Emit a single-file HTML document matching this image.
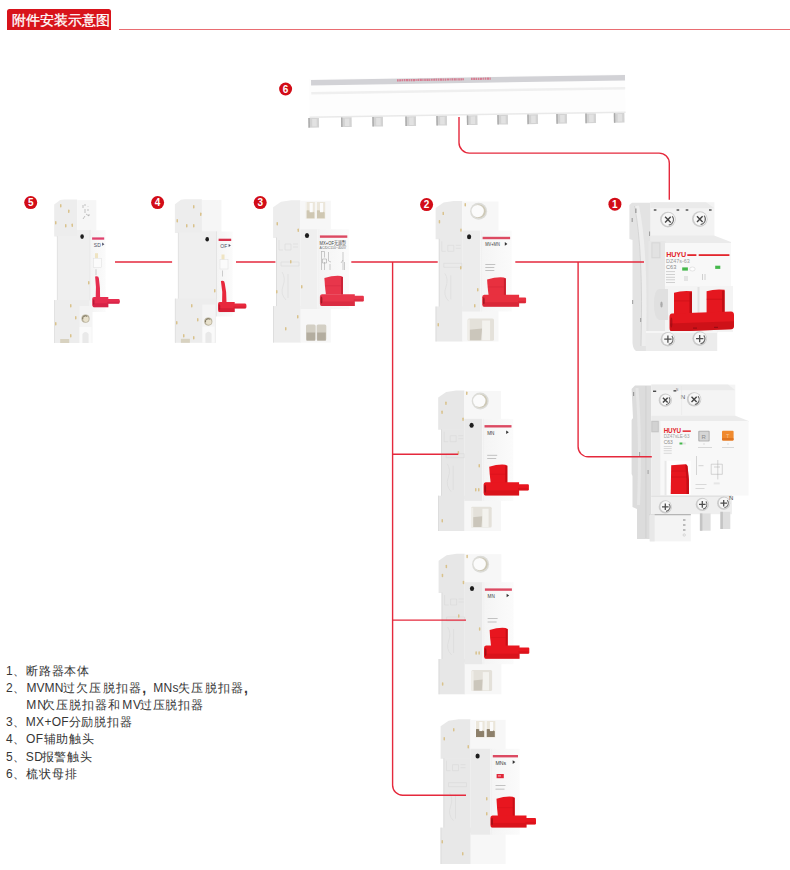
<!DOCTYPE html>
<html><head><meta charset="utf-8">
<style>
html,body{margin:0;padding:0;background:#fff;}
body{width:790px;height:870px;position:relative;overflow:hidden;font-family:"Liberation Sans",sans-serif;}
.hd{position:absolute;left:7px;top:8.6px;width:104px;height:21.4px;background:#d8131b;border-radius:2.5px 2.5px 0 0;color:#fff;font-size:14px;line-height:23px;padding-left:4.8px;box-sizing:border-box;letter-spacing:0px;white-space:nowrap;overflow:hidden;-webkit-text-stroke:0.3px #fff;}
.hl{position:absolute;left:119px;top:29px;width:671px;height:1px;background:#e96d72;}
svg.main{position:absolute;left:0;top:0;}
.lg{position:absolute;left:0;top:662.7px;width:300px;font-size:12px;line-height:17.2px;color:#363636;white-space:nowrap;}
.lg span{position:absolute;top:0;}
.lg div{height:17.2px;position:relative;}
</style></head>
<body>
<div class="hd">附件安装示意图</div>
<div class="hl"></div>

<svg class="main" width="790" height="870" viewBox="0 0 790 870">
<defs>
  <linearGradient id="gSide" x1="0" x2="1" y1="0" y2="0">
    <stop offset="0" stop-color="#e9e9e9"/><stop offset="1" stop-color="#f1f1f1"/>
  </linearGradient>
  <linearGradient id="gFront" x1="0" x2="1" y1="0" y2="0">
    <stop offset="0" stop-color="#f4f4f4"/><stop offset="1" stop-color="#fbfbfb"/>
  </linearGradient>
  <linearGradient id="gRed" x1="0" x2="0" y1="0" y2="1">
    <stop offset="0" stop-color="#ee2a37"/><stop offset="1" stop-color="#d91424"/>
  </linearGradient>
</defs>

<g transform="rotate(-0.92 311 79)"><rect x="309" y="79" width="316" height="39" fill="#fdfdfd" /><rect x="311" y="80" width="314" height="5.5" fill="#d2d2d6" /><rect x="311" y="92" width="314" height="2.5" fill="#efefef" /><rect x="309" y="116.5" width="316" height="1.5" fill="#e9e9e9" /><path d="M397 81.7 H464 M471 81.5 H491" stroke="#d8607a" stroke-width="2.2" stroke-dasharray="1.6 0.6 2.2 0.5 1.2 0.7" opacity="0.75"/><rect x="307.7" y="118" width="10.6" height="9.6" fill="#d3d3d3" /><rect x="307.7" y="118" width="1.4" height="9.6" fill="#aaaaaa" /><rect x="311.5" y="119" width="4.5" height="7.6" fill="#e2e2e2" /><rect x="340.4" y="118" width="10.6" height="9.6" fill="#d3d3d3" /><rect x="340.4" y="118" width="1.4" height="9.6" fill="#aaaaaa" /><rect x="344.2" y="119" width="4.5" height="7.6" fill="#e2e2e2" /><rect x="371.7" y="118" width="10.6" height="9.6" fill="#d3d3d3" /><rect x="371.7" y="118" width="1.4" height="9.6" fill="#aaaaaa" /><rect x="375.5" y="119" width="4.5" height="7.6" fill="#e2e2e2" /><rect x="404.7" y="118" width="10.6" height="9.6" fill="#d3d3d3" /><rect x="404.7" y="118" width="1.4" height="9.6" fill="#aaaaaa" /><rect x="408.5" y="119" width="4.5" height="7.6" fill="#e2e2e2" /><rect x="435.7" y="118" width="10.6" height="9.6" fill="#d3d3d3" /><rect x="435.7" y="118" width="1.4" height="9.6" fill="#aaaaaa" /><rect x="439.5" y="119" width="4.5" height="7.6" fill="#e2e2e2" /><rect x="466.2" y="118" width="10.6" height="9.6" fill="#d3d3d3" /><rect x="466.2" y="118" width="1.4" height="9.6" fill="#aaaaaa" /><rect x="470" y="119" width="4.5" height="7.6" fill="#e2e2e2" /><rect x="496.7" y="118" width="10.6" height="9.6" fill="#d3d3d3" /><rect x="496.7" y="118" width="1.4" height="9.6" fill="#aaaaaa" /><rect x="500.5" y="119" width="4.5" height="7.6" fill="#e2e2e2" /><rect x="526.7" y="118" width="10.6" height="9.6" fill="#d3d3d3" /><rect x="526.7" y="118" width="1.4" height="9.6" fill="#aaaaaa" /><rect x="530.5" y="119" width="4.5" height="7.6" fill="#e2e2e2" /><rect x="555.7" y="118" width="10.6" height="9.6" fill="#d3d3d3" /><rect x="555.7" y="118" width="1.4" height="9.6" fill="#aaaaaa" /><rect x="559.5" y="119" width="4.5" height="7.6" fill="#e2e2e2" /><rect x="584.7" y="118" width="10.6" height="9.6" fill="#d3d3d3" /><rect x="584.7" y="118" width="1.4" height="9.6" fill="#aaaaaa" /><rect x="588.5" y="119" width="4.5" height="7.6" fill="#e2e2e2" /><rect x="613.2" y="118" width="10.6" height="9.6" fill="#d3d3d3" /><rect x="613.2" y="118" width="1.4" height="9.6" fill="#aaaaaa" /><rect x="617" y="119" width="4.5" height="7.6" fill="#e2e2e2" /></g>
<g><path d="M54.2 204.4 L60.2 199.9 L64.2 199.4 H77.2 V236.6 H54.2 Z" fill="#ededed"/><rect x="77.2" y="200.2" width="19.1" height="30.8" fill="#f6f6f6" /><g stroke="#8a8a8a" stroke-width="0.5" fill="none"><path d="M83 205 v3 M84 205 l2 0 M88 206 v0.5 M85 209 v4 M87 210 h2 M86 214 l3 2 M85 216 l-2 3 M88 215 h2"/></g><rect x="56.9" y="236.1" width="33.6" height="64.4" fill="#efefef" /><rect x="76.9" y="229.9" width="13.9" height="7" fill="#efefef" /><rect x="89.7" y="230.2" width="0.8" height="81.8" fill="#e2e2e2" /><rect x="56.9" y="236.1" width="0.7" height="64.4" fill="#dddddd" /><rect x="54.2" y="300" width="35.3" height="43" fill="#ededed" /><rect x="54.2" y="300" width="0.7" height="43" fill="#dcdcdc" /><rect x="90.5" y="230.2" width="15.1" height="81.8" fill="url(#gFront)" /><rect x="92.1" y="237.4" width="12.1" height="2.3" fill="#e0426e" /><text x="93.8" y="246.8" font-family="Liberation Sans" font-size="5" fill="#4d5066">SD</text><path d="M102.1 242.6 l2.3 1.6 l-2.3 1.6 Z" fill="#4d5066"/><rect x="95" y="253.2" width="3" height="9" fill="#efe4c2" /><rect x="93.5" y="258.2" width="8" height="9.5" fill="#fbfbfb" stroke="#dedede" stroke-width="0.5"/><rect x="95.5" y="269.2" width="1" height="6" fill="#cccccc" /><ellipse cx="82.1" cy="236.6" rx="1.8" ry="2.3" fill="#1e1e1e"/><path d="M95.1 276.5 Q98.7 275.5 98.9 278.5 Q100.3 287 100.1 297.5 H95.7 Q96.5 287 95.1 276.5 Z" fill="#e62d4f"/><path d="M94 296.9 H108.3 V307.2 H94 Q92.2 307.2 92.2 305 V299.1 Q92.2 296.9 94 296.9 Z" fill="#e62d4f"/><rect x="93.2" y="303.29" width="15.1" height="3.91" fill="#b8153a" opacity="0.35"/><ellipse cx="93.7" cy="302.05" rx="0.8" ry="2.88" fill="#8a0a20" opacity="0.5"/><path d="M107.3 299 H118.7 Q119.9 299 119.9 301.4 Q119.9 303.8 118.7 303.8 H107.3 Z" fill="#e62d4f"/><rect x="107.3" y="301.88" width="11.6" height="1.92" fill="#b8153a" opacity="0.3"/><rect x="79.5" y="306" width="13" height="37" fill="#f4f4f4" /><circle cx="85.5" cy="318.7" r="4.1" fill="#b9b29c"/><circle cx="85.9" cy="319.1" r="2.8" fill="#e8e1cc"/><path d="M82.7 319.2 A2.8 2.8 0 0 1 87 316.3" stroke="#7d7560" stroke-width="1" fill="none"/><path d="M79.5 327 H91.5 V343 H88.5 V334 Q85.5 330 82.5 334 V343 H79.5 Z" fill="#fafafa"/><path d="M82.5 334 Q85.5 330 88.5 334 V343 H82.5 Z" fill="#e9e9e9"/><rect x="60.2" y="339" width="9" height="4" fill="#d8d2c0" /><rect x="55" y="221" width="1.5" height="3.4" rx="0.7" fill="#d9c28c"/><rect x="60" y="204" width="1.5" height="3.4" rx="0.7" fill="#d9c28c"/><rect x="68" y="209.5" width="1.5" height="3.4" rx="0.7" fill="#d9c28c"/><rect x="65" y="224" width="1.5" height="3.4" rx="0.7" fill="#d9c28c"/><rect x="71.5" y="223.5" width="1.5" height="3.4" rx="0.7" fill="#d9c28c"/><rect x="88" y="281" width="1.5" height="3.4" rx="0.7" fill="#d9c28c"/><rect x="70" y="304" width="1.5" height="3.4" rx="0.7" fill="#d9c28c"/><rect x="75" y="316" width="1.5" height="3.4" rx="0.7" fill="#d9c28c"/><rect x="55" y="322" width="1.5" height="3.4" rx="0.7" fill="#d9c28c"/><rect x="70" y="334" width="1.5" height="3.4" rx="0.7" fill="#d9c28c"/></g>
<g><path d="M174.9 204.2 L180.9 199.7 L184.9 199.2 H201.9 V233.1 H174.9 Z" fill="#ededed"/><rect x="201.9" y="200" width="19.5" height="32.3" fill="#f6f6f6" /><rect x="177.9" y="232.6" width="39.1" height="66.5" fill="#efefef" /><rect x="201.6" y="231.2" width="15.7" height="2.2" fill="#efefef" /><rect x="216.2" y="231.5" width="0.8" height="85" fill="#e2e2e2" /><rect x="177.9" y="232.6" width="0.7" height="66.5" fill="#dddddd" /><rect x="174.9" y="298.6" width="41.1" height="44.2" fill="#ededed" /><rect x="174.9" y="298.6" width="0.7" height="44.2" fill="#dcdcdc" /><rect x="217" y="231.5" width="15.6" height="85" fill="url(#gFront)" /><rect x="218.6" y="238.7" width="12.6" height="2.3" fill="#d8304a" /><text x="220.3" y="248.1" font-family="Liberation Sans" font-size="5" fill="#4d5066">OF</text><path d="M228.6 243.9 l2.3 1.6 l-2.3 1.6 Z" fill="#4d5066"/><rect x="221.5" y="254.5" width="3" height="9" fill="#efe4c2" /><rect x="220" y="259.5" width="8" height="9.5" fill="#fbfbfb" stroke="#dedede" stroke-width="0.5"/><rect x="222" y="270.5" width="1" height="6" fill="#cccccc" /><ellipse cx="207.2" cy="239.3" rx="1.8" ry="2.3" fill="#1e1e1e"/><path d="M220.9 281 Q224.5 280 224.7 283 Q226.7 291.5 226.5 302 H222.1 Q222.9 291.5 220.9 281 Z" fill="#e8283c"/><path d="M219.8 302 H234.7 V312.1 H219.8 Q218 312.1 218 309.9 V304.2 Q218 302 219.8 302 Z" fill="#e8283c"/><rect x="219" y="308.26" width="15.7" height="3.84" fill="#b80f24" opacity="0.35"/><ellipse cx="219.5" cy="307.05" rx="0.8" ry="2.83" fill="#8a0a20" opacity="0.5"/><path d="M233.7 303.5 H245.3 Q246.5 303.5 246.5 306.05 Q246.5 308.6 245.3 308.6 H233.7 Z" fill="#e8283c"/><rect x="233.7" y="306.56" width="11.8" height="2.04" fill="#b80f24" opacity="0.3"/><rect x="202.3" y="304.6" width="13" height="38.2" fill="#f4f4f4" /><circle cx="208.3" cy="321.6" r="4.1" fill="#b9b29c"/><circle cx="208.7" cy="322" r="2.8" fill="#e8e1cc"/><path d="M205.5 322.1 A2.8 2.8 0 0 1 209.8 319.2" stroke="#7d7560" stroke-width="1" fill="none"/><path d="M202.5 326.8 H214.5 V342.8 H211.5 V333.8 Q208.5 329.8 205.5 333.8 V342.8 H202.5 Z" fill="#fafafa"/><path d="M205.5 333.8 Q208.5 329.8 211.5 333.8 V342.8 H205.5 Z" fill="#e9e9e9"/><rect x="180.9" y="338.8" width="9" height="4" fill="#d8d2c0" /><rect x="193" y="205" width="1.5" height="3.4" rx="0.7" fill="#d9c28c"/><rect x="200" y="212.5" width="1.5" height="3.4" rx="0.7" fill="#d9c28c"/><rect x="176.5" y="219" width="1.5" height="3.4" rx="0.7" fill="#d9c28c"/><rect x="186" y="224" width="1.5" height="3.4" rx="0.7" fill="#d9c28c"/><rect x="193" y="224" width="1.5" height="3.4" rx="0.7" fill="#d9c28c"/><rect x="214" y="289" width="1.5" height="3.4" rx="0.7" fill="#d9c28c"/><rect x="191" y="304" width="1.5" height="3.4" rx="0.7" fill="#d9c28c"/><rect x="197" y="318" width="1.5" height="3.4" rx="0.7" fill="#d9c28c"/><rect x="176" y="321" width="1.5" height="3.4" rx="0.7" fill="#d9c28c"/><rect x="183" y="334" width="1.5" height="3.4" rx="0.7" fill="#d9c28c"/><rect x="193" y="336" width="1.5" height="3.4" rx="0.7" fill="#d9c28c"/></g>
<g><path d="M273.1 207.2 L281.1 201.7 L291.1 200.2 H300.4 V238 H273.1 Z" fill="#ededed"/><rect x="276" y="237.5" width="24.4" height="69.1" fill="#ededed" /><rect x="276" y="237.5" width="0.8" height="69.1" fill="#d9d9d9" /><rect x="273.1" y="306.1" width="27.8" height="36.5" fill="#ededed" /><rect x="273.1" y="306.1" width="0.8" height="36.5" fill="#dadada" /><rect x="300.4" y="200.7" width="30.4" height="29" fill="#f7f7f7" /><rect x="300.4" y="307" width="30.4" height="35.6" fill="#f7f7f7" /><rect x="300.4" y="229.2" width="17.2" height="79.8" fill="#efefef" /><rect x="317.6" y="229.2" width="31.4" height="79.8" fill="url(#gFront)" /><rect x="318.4" y="229.2" width="0.8" height="79.8" fill="#f0f0f0" /><rect x="319.9" y="235.4" width="27.4" height="2.4" fill="#dc4a62" /><rect x="305.5" y="202" width="9.35" height="16.8" fill="#ebe6da" /><path d="M306 210.4 Q310.18 209.56 314.35 212.42 V218.3 H306 Z" fill="#cfc7b2"/><rect x="309.66" y="203" width="3.1" height="9.24" fill="#fbfbfb" /><rect x="305.5" y="202" width="1" height="16.8" fill="#fafafa" /><rect x="315.85" y="202" width="9.35" height="16.8" fill="#ebe6da" /><path d="M316.35 210.4 Q320.53 209.56 324.7 212.42 V218.3 H316.35 Z" fill="#cfc7b2"/><rect x="320.01" y="203" width="3.1" height="9.24" fill="#fbfbfb" /><rect x="315.85" y="202" width="1" height="16.8" fill="#fafafa" /><rect x="306" y="324.4" width="9.65" height="16.2" fill="#d3cfc4" rx="1.5"/><rect x="306.5" y="332.5" width="8.65" height="8.1" fill="#b3ad9f" /><rect x="316.65" y="324.4" width="9.65" height="16.2" fill="#d3cfc4" rx="1.5"/><rect x="317.15" y="332.5" width="8.65" height="8.1" fill="#b3ad9f" /><ellipse cx="307" cy="235.5" rx="2.1" ry="2.5" fill="#1d1d1d"/><text x="319.6" y="244.6" font-family="Liberation Sans" font-size="6.2" fill="#3c3c3c" textLength="26.4" lengthAdjust="spacingAndGlyphs">MX+OF无源型</text><text x="319.6" y="249.4" font-family="Liberation Sans" font-size="3.9" fill="#6a6a6a" textLength="26.4" lengthAdjust="spacingAndGlyphs">AC/DC110~400V</text><g stroke="#9a9a9a" stroke-width="0.5" fill="none"><path d="M321.5 251 V270 M321.5 251.5 h3 v6 M324.5 262 v8 M322.5 259 h4 v4 h-4 z M328.5 252 v9 l2.5 1 M330 264 v6 M343 252 v18 M341 263 l2 -3 M344.5 262 v8"/></g><path d="M324.4 278 Q333.7 275.2 341 276 L343 277 V294.6 H325.9 Q324.7 285.3 324.4 278 Z" fill="#e8364b"/><rect x="341" y="277" width="2" height="17.6" fill="#c51f34" opacity="0.85"/><rect x="325.4" y="285.3" width="15.6" height="0.9" fill="#c51f34" opacity="0.3"/><path d="M321.9 294.2 H354.8 V306 H321.9 Q319.9 306 319.9 303.5 V296.7 Q319.9 294.2 321.9 294.2 Z" fill="#e8364b"/><rect x="320.9" y="301.52" width="33.9" height="4.48" fill="#c51f34" opacity="0.4"/><ellipse cx="321.5" cy="300.1" rx="0.9" ry="3.54" fill="#7a0a10" opacity="0.6"/><path d="M353.8 295.8 H362.9 Q363.9 295.8 363.9 297 V300.2 Q363.9 301.4 362.9 301.4 H353.8 Z" fill="#e8364b"/><rect x="353.8" y="299.16" width="9.1" height="2.24" fill="#c51f34" opacity="0.35"/><g stroke="#d6d6d6" stroke-width="0.5" fill="none"><path d="M279 240 v10 h4 M285 244 h6 v6 h-6 z M293 244 h5 M293 247 h5 M281 262 h18 v4 h-18 z M282 272 q4 6 1 14 q-3 8 3 14 M288 274 v24"/></g><rect x="276.5" y="222" width="1.5" height="3.4" rx="0.7" fill="#d9c28c"/><rect x="297.5" y="228.5" width="1.5" height="3.4" rx="0.7" fill="#d9c28c"/><rect x="290" y="260" width="1.5" height="3.4" rx="0.7" fill="#d9c28c"/><rect x="276" y="290" width="1.5" height="3.4" rx="0.7" fill="#d9c28c"/><rect x="301" y="285" width="1.5" height="3.4" rx="0.7" fill="#d9c28c"/><rect x="285" y="327" width="1.5" height="3.4" rx="0.7" fill="#d9c28c"/><rect x="297" y="315" width="1.5" height="3.4" rx="0.7" fill="#d9c28c"/></g>
<g><path d="M435.6 208 L443.6 202.5 L453.6 201 H462.2 V239.3 H435.6 Z" fill="#eaeaea"/><rect x="438.8" y="238.8" width="23.4" height="68.2" fill="#eaeaea" /><rect x="438.8" y="238.8" width="0.8" height="68.2" fill="#d9d9d9" /><rect x="435.6" y="306.5" width="27.1" height="35" fill="#eaeaea" /><rect x="435.6" y="306.5" width="0.8" height="35" fill="#dadada" /><rect x="462.2" y="201.5" width="36.3" height="29.6" fill="#f7f7f7" /><rect x="462.2" y="309.5" width="36.3" height="32" fill="#f7f7f7" /><rect x="462.2" y="230.6" width="18.1" height="80.9" fill="#ececec" /><rect x="480.3" y="230.6" width="31.5" height="80.9" fill="url(#gFront)" /><rect x="481.1" y="230.6" width="0.8" height="80.9" fill="#f0f0f0" /><rect x="482.6" y="236.8" width="27.5" height="2.4" fill="#dc4a62" /><circle cx="478.6" cy="211.3" r="8.5" fill="#dcdcd8"/><circle cx="478.9" cy="211.3" r="6.8" fill="#cdc8b6"/><circle cx="477.7" cy="211.1" r="6.2" fill="#fbfbfb"/><rect x="467.6" y="318.5" width="26.4" height="22.3" fill="#e4e1da" rx="1.5"/><path d="M469.1 329.65 L482.12 328.54 L480.8 340.3 H469.1 Z" fill="#cbc6bb"/><rect x="482.12" y="320.5" width="7.92" height="19.8" fill="#f3f2ee" /><rect x="467.6" y="319.5" width="2.2" height="21.3" fill="#efede8" /><ellipse cx="469.1" cy="236.8" rx="2.1" ry="2.5" fill="#1d1d1d"/><text x="485.3" y="246.4" font-family="Liberation Sans" font-size="5.2" fill="#3c3c3c" textLength="14.5" lengthAdjust="spacingAndGlyphs">MV+MN</text><path d="M504.8 242.1 l2.6 1.8 l-2.6 1.8 Z" fill="#333"/><rect x="485.3" y="264.1" width="10" height="0.6" fill="#a0a0a0" /><rect x="485.3" y="267.1" width="9" height="0.6" fill="#a0a0a0" /><rect x="485.3" y="270.1" width="9" height="0.6" fill="#a0a0a0" /><path d="M487.1 279.4 Q496.5 276.6 503.9 277.4 L505.9 278.4 V295.5 H488.6 Q487.4 286.45 487.1 279.4 Z" fill="#e8303f"/><rect x="503.9" y="278.4" width="2" height="17.1" fill="#c41c2c" opacity="0.85"/><rect x="488.1" y="286.45" width="15.8" height="0.9" fill="#c41c2c" opacity="0.3"/><path d="M484.2 294.8 H519.1 V306.7 H484.2 Q482.2 306.7 482.2 304.2 V297.3 Q482.2 294.8 484.2 294.8 Z" fill="#e8303f"/><rect x="483.2" y="302.18" width="35.9" height="4.52" fill="#c41c2c" opacity="0.4"/><ellipse cx="483.8" cy="300.75" rx="0.9" ry="3.57" fill="#7a0a10" opacity="0.6"/><path d="M518.1 297.6 H525.1 Q526.1 297.6 526.1 298.8 V302 Q526.1 303.2 525.1 303.2 H518.1 Z" fill="#e8303f"/><rect x="518.1" y="300.96" width="7" height="2.24" fill="#c41c2c" opacity="0.35"/><g stroke="#d6d6d6" stroke-width="0.5" fill="none"><path d="M441.8 241.3 v10 h4 M447.8 245.3 h6 v6 h-6 z M455.8 245.3 h5 M455.8 248.3 h5 M443.8 263.3 h18 v4 h-18 z M444.8 273.3 q4 6 1 14 q-3 8 3 14 M450.8 275.3 v24"/></g><rect x="442.5" y="211.7" width="1.5" height="3.4" rx="0.7" fill="#d9c28c"/><rect x="438.7" y="220" width="1.5" height="3.4" rx="0.7" fill="#d9c28c"/><rect x="460.2" y="228.4" width="1.5" height="3.4" rx="0.7" fill="#d9c28c"/><rect x="464.5" y="203" width="1.5" height="3.4" rx="0.7" fill="#d9c28c"/><rect x="460" y="266" width="1.5" height="3.4" rx="0.7" fill="#d9c28c"/><rect x="477" y="288" width="1.5" height="3.4" rx="0.7" fill="#d9c28c"/><rect x="474" y="304" width="1.5" height="3.4" rx="0.7" fill="#d9c28c"/><rect x="437.5" y="323" width="1.5" height="3.4" rx="0.7" fill="#d9c28c"/></g>
<g><path d="M438.2 397.4 L446.2 391.9 L456.2 390.4 H464.3 V429.7 H438.2 Z" fill="#e7e7e7"/><rect x="441.2" y="429.2" width="23.1" height="67" fill="#e7e7e7" /><rect x="441.2" y="429.2" width="0.8" height="67" fill="#d9d9d9" /><rect x="438.2" y="495.7" width="26.6" height="35.3" fill="#e7e7e7" /><rect x="438.2" y="495.7" width="0.8" height="35.3" fill="#dadada" /><rect x="464.3" y="390.9" width="36.7" height="28.5" fill="#f7f7f7" /><rect x="464.3" y="498.9" width="36.7" height="32.1" fill="#f7f7f7" /><rect x="464.3" y="418.9" width="17.9" height="82" fill="#e9e9e9" /><rect x="482.2" y="418.9" width="31" height="82" fill="url(#gFront)" /><rect x="483" y="418.9" width="0.8" height="82" fill="#f0f0f0" /><rect x="484.5" y="425.1" width="27" height="2.4" fill="#dc4a62" /><circle cx="480.2" cy="401" r="8.5" fill="#dcdcd8"/><circle cx="480.5" cy="401" r="6.8" fill="#cdc8b6"/><circle cx="479.3" cy="400.8" r="6.2" fill="#fbfbfb"/><rect x="471" y="506.8" width="20.7" height="20.8" fill="#e4e1da" rx="1.5"/><path d="M472.5 517.2 L482.38 516.16 L481.35 527.1 H472.5 Z" fill="#cbc6bb"/><rect x="482.38" y="508.8" width="6.21" height="18.3" fill="#f3f2ee" /><rect x="471" y="507.8" width="2.2" height="19.8" fill="#efede8" /><ellipse cx="471.6" cy="425.2" rx="2.1" ry="2.5" fill="#1d1d1d"/><text x="487.2" y="434.7" font-family="Liberation Sans" font-size="5.6" fill="#3c3c3c" textLength="7.2" lengthAdjust="spacingAndGlyphs">MN</text><path d="M506.2 430.4 l2.6 1.8 l-2.6 1.8 Z" fill="#333"/><rect x="487.2" y="454.9" width="10" height="0.6" fill="#a0a0a0" /><rect x="487.2" y="458.4" width="9" height="0.6" fill="#a0a0a0" /><path d="M489.2 466.7 Q498.25 463.9 505.3 464.7 L507.3 465.7 V482.9 H490.7 Q489.5 473.8 489.2 466.7 Z" fill="#e8161f"/><rect x="505.3" y="465.7" width="2" height="17.2" fill="#c20c14" opacity="0.85"/><rect x="490.2" y="473.8" width="15.1" height="0.9" fill="#c20c14" opacity="0.3"/><path d="M485.6 482.2 H519.1 V495.4 H485.6 Q483.6 495.4 483.6 492.9 V484.7 Q483.6 482.2 485.6 482.2 Z" fill="#e8161f"/><rect x="484.6" y="490.38" width="34.5" height="5.02" fill="#c20c14" opacity="0.4"/><ellipse cx="485.2" cy="488.8" rx="0.9" ry="3.96" fill="#7a0a10" opacity="0.6"/><path d="M518.1 484.2 H527.9 Q528.9 484.2 528.9 485.4 V489.3 Q528.9 490.5 527.9 490.5 H518.1 Z" fill="#e8161f"/><rect x="518.1" y="487.98" width="9.8" height="2.52" fill="#c20c14" opacity="0.35"/><g stroke="#d6d6d6" stroke-width="0.5" fill="none"><path d="M444.2 431.7 v10 h4 M450.2 435.7 h6 v6 h-6 z M458.2 435.7 h5 M458.2 438.7 h5 M446.2 453.7 h18 v4 h-18 z M447.2 463.7 q4 6 1 14 q-3 8 3 14 M453.2 465.7 v24"/></g><rect x="445.2" y="401.5" width="1.5" height="3.4" rx="0.7" fill="#d9c28c"/><rect x="441.3" y="410.5" width="1.5" height="3.4" rx="0.7" fill="#d9c28c"/><rect x="462.3" y="417.5" width="1.5" height="3.4" rx="0.7" fill="#d9c28c"/><rect x="466" y="391.5" width="1.5" height="3.4" rx="0.7" fill="#d9c28c"/><rect x="457.6" y="451" width="1.5" height="3.4" rx="0.7" fill="#d9c28c"/><rect x="478.5" y="464" width="1.5" height="3.4" rx="0.7" fill="#d9c28c"/><rect x="475" y="488" width="1.5" height="3.4" rx="0.7" fill="#d9c28c"/><rect x="478" y="488" width="1.5" height="3.4" rx="0.7" fill="#d9c28c"/><rect x="441.5" y="519" width="1.5" height="3.4" rx="0.7" fill="#d9c28c"/></g>
<g><path d="M438.6 560.7 L446.6 555.2 L456.6 553.7 H464.7 V593 H438.6 Z" fill="#e7e7e7"/><rect x="441.6" y="592.5" width="23.1" height="67" fill="#e7e7e7" /><rect x="441.6" y="592.5" width="0.8" height="67" fill="#d9d9d9" /><rect x="438.6" y="659" width="26.6" height="35.3" fill="#e7e7e7" /><rect x="438.6" y="659" width="0.8" height="35.3" fill="#dadada" /><rect x="464.7" y="554.2" width="36.7" height="28.5" fill="#f7f7f7" /><rect x="464.7" y="662.2" width="36.7" height="32.1" fill="#f7f7f7" /><rect x="464.7" y="582.2" width="17.9" height="82" fill="#e9e9e9" /><rect x="482.6" y="582.2" width="31" height="82" fill="url(#gFront)" /><rect x="483.4" y="582.2" width="0.8" height="82" fill="#f0f0f0" /><rect x="484.9" y="588.4" width="27" height="2.4" fill="#dc4a62" /><circle cx="480.6" cy="564.3" r="8.5" fill="#dcdcd8"/><circle cx="480.9" cy="564.3" r="6.8" fill="#cdc8b6"/><circle cx="479.7" cy="564.1" r="6.2" fill="#fbfbfb"/><rect x="471.4" y="670.1" width="20.7" height="20.8" fill="#e4e1da" rx="1.5"/><path d="M472.9 680.5 L482.78 679.46 L481.75 690.4 H472.9 Z" fill="#cbc6bb"/><rect x="482.78" y="672.1" width="6.21" height="18.3" fill="#f3f2ee" /><rect x="471.4" y="671.1" width="2.2" height="19.8" fill="#efede8" /><ellipse cx="472" cy="588.5" rx="2.1" ry="2.5" fill="#1d1d1d"/><text x="487.6" y="598" font-family="Liberation Sans" font-size="5.6" fill="#3c3c3c" textLength="7.2" lengthAdjust="spacingAndGlyphs">MN</text><path d="M506.6 593.7 l2.6 1.8 l-2.6 1.8 Z" fill="#333"/><rect x="487.6" y="618.2" width="10" height="0.6" fill="#a0a0a0" /><rect x="487.6" y="621.7" width="9" height="0.6" fill="#a0a0a0" /><path d="M489.6 630 Q498.65 627.2 505.7 628 L507.7 629 V646.2 H491.1 Q489.9 637.1 489.6 630 Z" fill="#e8161f"/><rect x="505.7" y="629" width="2" height="17.2" fill="#c20c14" opacity="0.85"/><rect x="490.6" y="637.1" width="15.1" height="0.9" fill="#c20c14" opacity="0.3"/><path d="M486 645.5 H519.5 V658.7 H486 Q484 658.7 484 656.2 V648 Q484 645.5 486 645.5 Z" fill="#e8161f"/><rect x="485" y="653.68" width="34.5" height="5.02" fill="#c20c14" opacity="0.4"/><ellipse cx="485.6" cy="652.1" rx="0.9" ry="3.96" fill="#7a0a10" opacity="0.6"/><path d="M518.5 647.5 H528.3 Q529.3 647.5 529.3 648.7 V652.6 Q529.3 653.8 528.3 653.8 H518.5 Z" fill="#e8161f"/><rect x="518.5" y="651.28" width="9.8" height="2.52" fill="#c20c14" opacity="0.35"/><g stroke="#d6d6d6" stroke-width="0.5" fill="none"><path d="M444.6 595 v10 h4 M450.6 599 h6 v6 h-6 z M458.6 599 h5 M458.6 602 h5 M446.6 617 h18 v4 h-18 z M447.6 627 q4 6 1 14 q-3 8 3 14 M453.6 629 v24"/></g><rect x="445.6" y="564.8" width="1.5" height="3.4" rx="0.7" fill="#d9c28c"/><rect x="441.7" y="573.8" width="1.5" height="3.4" rx="0.7" fill="#d9c28c"/><rect x="462.7" y="580.8" width="1.5" height="3.4" rx="0.7" fill="#d9c28c"/><rect x="466.4" y="554.8" width="1.5" height="3.4" rx="0.7" fill="#d9c28c"/><rect x="458" y="614.3" width="1.5" height="3.4" rx="0.7" fill="#d9c28c"/><rect x="478.9" y="627.3" width="1.5" height="3.4" rx="0.7" fill="#d9c28c"/><rect x="475.4" y="651.3" width="1.5" height="3.4" rx="0.7" fill="#d9c28c"/><rect x="478.4" y="651.3" width="1.5" height="3.4" rx="0.7" fill="#d9c28c"/><rect x="441.9" y="682.3" width="1.5" height="3.4" rx="0.7" fill="#d9c28c"/></g>
<g><path d="M440.6 726.3 L448.6 720.8 L458.6 719.3 H470.5 V758.7 H440.6 Z" fill="#e8e8e8"/><rect x="443.5" y="758.2" width="27" height="69.9" fill="#e8e8e8" /><rect x="443.5" y="758.2" width="0.8" height="69.9" fill="#d9d9d9" /><rect x="440.6" y="827.6" width="30.4" height="36.4" fill="#e8e8e8" /><rect x="440.6" y="827.6" width="0.8" height="36.4" fill="#dadada" /><rect x="470.5" y="719.8" width="35.1" height="29.5" fill="#f7f7f7" /><rect x="470.5" y="832.7" width="35.1" height="31.3" fill="#f7f7f7" /><rect x="470.5" y="748.8" width="20" height="85.9" fill="#eaeaea" /><rect x="490.5" y="748.8" width="29.2" height="85.9" fill="url(#gFront)" /><rect x="491.3" y="748.8" width="0.8" height="85.9" fill="#f0f0f0" /><rect x="492.8" y="755" width="25.2" height="2.4" fill="#dc4a62" /><rect x="475" y="721" width="9.65" height="16.5" fill="#ebe6da" /><path d="M475.5 729.25 Q479.82 728.42 484.15 731.23 V737 H475.5 Z" fill="#8d806b"/><rect x="479.29" y="722" width="3.2" height="9.08" fill="#fbfbfb" /><rect x="475" y="721" width="1" height="16.5" fill="#fafafa" /><rect x="485.65" y="721" width="9.65" height="16.5" fill="#ebe6da" /><path d="M486.15 729.25 Q490.47 728.42 494.8 731.23 V737 H486.15 Z" fill="#8d806b"/><rect x="489.94" y="722" width="3.2" height="9.08" fill="#fbfbfb" /><rect x="485.65" y="721" width="1" height="16.5" fill="#fafafa" /><ellipse cx="477.6" cy="756" rx="2.1" ry="2.5" fill="#1d1d1d"/><text x="495.5" y="764.6" font-family="Liberation Sans" font-size="5.2" fill="#3c3c3c">MNs</text><path d="M512.7 760.3 l2.6 1.8 l-2.6 1.8 Z" fill="#333"/><rect x="495.5" y="785.3" width="10" height="0.6" fill="#a0a0a0" /><rect x="495.5" y="788.8" width="9" height="0.6" fill="#a0a0a0" /><rect x="496.6" y="774" width="7.2" height="4.2" fill="#e0283a" /><rect x="498" y="775.3" width="3" height="1.2" fill="#f4a0a8" /><path d="M496.5 798.8 Q505.6 796 512.7 796.8 L514.7 797.8 V817.5 H498 Q496.8 807.15 496.5 798.8 Z" fill="#e8161f"/><rect x="512.7" y="797.8" width="2" height="19.7" fill="#c20c14" opacity="0.85"/><rect x="497.5" y="807.15" width="15.2" height="0.9" fill="#c20c14" opacity="0.3"/><path d="M492.4 815.4 H526.5 V827.6 H492.4 Q490.4 827.6 490.4 825.1 V817.9 Q490.4 815.4 492.4 815.4 Z" fill="#e8161f"/><rect x="491.4" y="822.96" width="35.1" height="4.64" fill="#c20c14" opacity="0.4"/><ellipse cx="492" cy="821.5" rx="0.9" ry="3.66" fill="#7a0a10" opacity="0.6"/><path d="M525.5 818 H535 Q536 818 536 819.2 V823.3 Q536 824.5 535 824.5 H525.5 Z" fill="#e8161f"/><rect x="525.5" y="821.9" width="9.5" height="2.6" fill="#c20c14" opacity="0.35"/><g stroke="#d6d6d6" stroke-width="0.5" fill="none"><path d="M446.5 760.7 v10 h4 M452.5 764.7 h6 v6 h-6 z M460.5 764.7 h5 M460.5 767.7 h5 M448.5 782.7 h18 v4 h-18 z M449.5 792.7 q4 6 1 14 q-3 8 3 14 M455.5 794.7 v24"/></g><rect x="453" y="728" width="1.5" height="3.4" rx="0.7" fill="#d9c28c"/><rect x="443.5" y="737" width="1.5" height="3.4" rx="0.7" fill="#d9c28c"/><rect x="467.5" y="745" width="1.5" height="3.4" rx="0.7" fill="#d9c28c"/><rect x="486" y="797" width="1.5" height="3.4" rx="0.7" fill="#d9c28c"/><rect x="486" y="812" width="1.5" height="3.4" rx="0.7" fill="#d9c28c"/><rect x="441.5" y="840" width="1.5" height="3.4" rx="0.7" fill="#d9c28c"/><rect x="462" y="852" width="1.5" height="3.4" rx="0.7" fill="#d9c28c"/></g>
<g><path d="M629.4 205 L632 202.8 H650.8 V351 H636 Q633 349 632.5 343 V240 L629.4 239 Z" fill="#e3e3e3"/><path d="M636.5 206 Q646 250 643.5 346" stroke="#eeeeee" stroke-width="5" fill="none"/><path d="M634.5 206 Q643.5 250 641 346" stroke="#cfcfcf" stroke-width="0.8" fill="none"/><rect x="635.2" y="208.5" width="1.3" height="4.5" fill="#9a9a9a" /><rect x="631.6" y="218" width="1.2" height="4" fill="#a0a0a0" /><rect x="649" y="231.5" width="1.2" height="4.5" fill="#a0a0a0" /><rect x="632" y="300" width="1.2" height="4" fill="#a8a8a8" /><rect x="640" y="318" width="1.2" height="4" fill="#a8a8a8" /><rect x="650.4" y="202.2" width="64" height="34" fill="#f3f3f3" /><path d="M650.4 202.2 H706 L714.4 208.3 H650.4 Z" fill="#eaeaea"/><rect x="653.8" y="209.3" width="2.6" height="1.4" fill="#4a4a4a" /><rect x="676.6" y="209.3" width="2.6" height="1.4" fill="#4a4a4a" /><rect x="685.7" y="209.3" width="2.6" height="1.4" fill="#4a4a4a" /><rect x="709" y="209.3" width="2.6" height="1.4" fill="#4a4a4a" /><circle cx="667.9" cy="219.6" r="7.8" fill="#cbcbcb"/><circle cx="668.4" cy="219.3" r="6.6" fill="#f7f7f7"/><path d="M672.19 216.09 A5.46 5.46 0 0 1 668.68 225.06" stroke="#6a6a6a" stroke-width="1.1" fill="none"/><path d="M665.09 216.79 L670.71 222.41 M670.71 216.79 L665.09 222.41" stroke="#444" stroke-width="1.4"/><circle cx="699.8" cy="219.1" r="7.8" fill="#cbcbcb"/><circle cx="700.3" cy="218.8" r="6.6" fill="#f7f7f7"/><path d="M704.09 215.59 A5.46 5.46 0 0 1 700.58 224.56" stroke="#6a6a6a" stroke-width="1.1" fill="none"/><path d="M696.99 216.29 L702.61 221.91 M702.61 216.29 L696.99 221.91" stroke="#444" stroke-width="1.4"/><path d="M650.4 235.6 H714 L731 242 V244 H650.4 Z" fill="#ebebeb"/><rect x="648.5" y="241" width="17" height="92" fill="#e7e7e7" /><rect x="651.4" y="242.3" width="9" height="16" fill="#d6d6d6" /><rect x="652.4" y="243.3" width="7" height="14" fill="#e2e2e2" /><rect x="665" y="243" width="66" height="46" fill="#f8f8f8" /><text x="666.2" y="257.2" font-family="Liberation Sans" font-weight="bold" font-size="7.2" fill="#e3262d" letter-spacing="-0.1">HUYU</text><rect x="687.3" y="254.2" width="9.1" height="1.8" fill="#e3262d" /><rect x="698.7" y="254.2" width="30.7" height="1.8" fill="#e3262d" /><text x="666" y="263.4" font-family="Liberation Sans" font-size="5.4" fill="#9a9a9a">DZ47s-63</text><text x="666" y="268.8" font-family="Liberation Sans" font-size="5.6" fill="#8a8a8a">C63</text><rect x="682.2" y="267.4" width="5.7" height="3.2" fill="#45b84c" /><rect x="715.2" y="265.7" width="5.1" height="3.2" fill="#45b84c" /><ellipse cx="692.4" cy="269" rx="2.8" ry="2" fill="#fdfdfd" stroke="#cfcfcf" stroke-width="0.5"/><rect x="666" y="271.5" width="9" height="0.55" fill="#b0b0b0" /><rect x="666" y="274.2" width="9" height="0.55" fill="#b0b0b0" /><rect x="666" y="276.9" width="9" height="0.55" fill="#b0b0b0" /><rect x="666" y="279.6" width="9" height="0.55" fill="#b0b0b0" /><rect x="666" y="282.2" width="9" height="0.55" fill="#b0b0b0" /><g stroke="#a8a8a8" stroke-width="0.5"><path d="M685 276 v5 M687 276 v5 M702.5 274 v6 M705 274 v6"/></g><rect x="665" y="286" width="68" height="46" fill="#f4f4f4" /><rect x="697.5" y="287" width="2" height="28" fill="#e2e2e2" /><path d="M659 289 Q654 290 654 304 Q654 318 659 320 H668 V289 Z" fill="#e0e0e0"/><ellipse cx="661.5" cy="304.5" rx="1.2" ry="3" fill="#aaa"/><path d="M674 292.8 Q682 290.3 692 291.3 V316.3 H674 Z" fill="#e5171f"/><rect x="689.5" y="292.3" width="2.5" height="24" fill="#b70b12" opacity="0.8"/><rect x="674" y="300.3" width="15.5" height="1.2" fill="#b70b12" opacity="0.35"/><path d="M706.6 291.2 Q714.6 288.7 724.6 289.7 V314.7 H706.6 Z" fill="#e5171f"/><rect x="722.1" y="290.7" width="2.5" height="24" fill="#b70b12" opacity="0.8"/><rect x="706.6" y="298.7" width="15.5" height="1.2" fill="#b70b12" opacity="0.35"/><path d="M672 313.5 L731 311.5 Q734 311.7 734 315 V326 Q734 329 731 329.3 L673 331.8 Q669.5 331.8 669.5 328 V317 Q669.5 313.6 672 313.5 Z" fill="#e5171f"/><path d="M670 323.5 L734 321.3 V326 Q734 329 731 329.3 L673 331.8 Q670 331.8 670 329 Z" fill="#b70b12" opacity="0.5"/><ellipse cx="671.3" cy="322.5" rx="1.1" ry="5" fill="#8a0a10" opacity="0.55"/><rect x="693" y="327.5" width="4" height="1.2" fill="#7a0a10" opacity="0.6"/><rect x="714" y="326.8" width="4" height="1.2" fill="#7a0a10" opacity="0.6"/><rect x="645.8" y="331" width="71.4" height="20" fill="#ececec" /><rect x="645.8" y="331" width="71.4" height="2" fill="#f6f6f6" /><circle cx="667.9" cy="339.2" r="7.3" fill="#cbcbcb"/><circle cx="668.4" cy="338.9" r="6.1" fill="#f7f7f7"/><path d="M671.91 335.91 A5.11 5.11 0 0 1 668.63 344.31" stroke="#6a6a6a" stroke-width="1.1" fill="none"/><path d="M664.25 339.2 H671.55 M667.9 335.55 V342.85" stroke="#4d4d4d" stroke-width="1.3"/><circle cx="699.7" cy="338.6" r="7.3" fill="#cbcbcb"/><circle cx="700.2" cy="338.3" r="6.1" fill="#f7f7f7"/><path d="M703.72 335.31 A5.11 5.11 0 0 1 700.43 343.71" stroke="#6a6a6a" stroke-width="1.1" fill="none"/><path d="M696.05 338.6 H703.35 M699.7 334.95 V342.25" stroke="#4d4d4d" stroke-width="1.3"/></g>
<g><path d="M631.6 389 L635 385.4 H651.3 V539 H637 V509 L632.5 507 V476 L631.6 474 V420 L633 418 Z" fill="#dcdcdc"/><path d="M637 388 Q641 440 638.5 505" stroke="#e6e6e6" stroke-width="3" fill="none"/><rect x="645.5" y="386" width="0.8" height="152" fill="#cecece" /><rect x="633" y="392" width="1.2" height="4" fill="#999" /><rect x="639" y="452" width="1.2" height="4" fill="#aaa" /><rect x="647.5" y="470" width="1.2" height="4" fill="#aaa" /><rect x="651.3" y="384.6" width="84" height="31.5" fill="#f4f4f4" /><path d="M651.3 384.6 H728 L735.3 390.3 H651.3 Z" fill="#ebebeb"/><rect x="653" y="390.6" width="3.2" height="1.3" fill="#3a3a3a" /><rect x="673.5" y="390.2" width="2.8" height="1.3" fill="#3a3a3a" /><text x="676" y="391.4" font-family="Liberation Sans" font-size="3" fill="#777">N</text><circle cx="665.3" cy="400.2" r="6.6" fill="#cbcbcb"/><circle cx="665.8" cy="399.9" r="5.4" fill="#f7f7f7"/><path d="M668.93 397.23 A4.62 4.62 0 0 1 665.96 404.82" stroke="#6a6a6a" stroke-width="1.1" fill="none"/><path d="M662.92 397.82 L667.68 402.58 M667.68 397.82 L662.92 402.58" stroke="#444" stroke-width="1.4"/><circle cx="694.1" cy="399.4" r="7.2" fill="#cbcbcb"/><circle cx="694.6" cy="399.1" r="6" fill="#f7f7f7"/><path d="M698.06 396.16 A5.04 5.04 0 0 1 694.82 404.44" stroke="#6a6a6a" stroke-width="1.1" fill="none"/><path d="M691.51 396.81 L696.69 401.99 M696.69 396.81 L691.51 401.99" stroke="#444" stroke-width="1.4"/><text x="680.8" y="398.6" font-family="Liberation Sans" font-size="6.2" fill="#555">N</text><rect x="681.5" y="386" width="0.6" height="29" fill="#e6e6e6" /><path d="M651.3 415.8 H735.3 L748.6 421 V422 H651.3 Z" fill="#ebebeb"/><rect x="651.3" y="421" width="97.3" height="74.5" fill="#f8f8f8" /><rect x="651.3" y="421" width="9" height="74.5" fill="#ececec" /><rect x="651.3" y="420.8" width="7.5" height="11.5" fill="#c4c4c4" /><rect x="652.3" y="421.8" width="5.5" height="9.5" fill="#d2d2d2" /><text x="663.7" y="433.4" font-family="Liberation Sans" font-weight="bold" font-size="6.3" fill="#e3262d" letter-spacing="-0.2">HUYU</text><rect x="682.6" y="430.4" width="8.2" height="1.5" fill="#e3262d" /><text x="663.7" y="438.4" font-family="Liberation Sans" font-size="4.6" fill="#a0a0a0">DZ47sLE-63</text><text x="663.7" y="443.6" font-family="Liberation Sans" font-size="5" fill="#8a8a8a">C63</text><rect x="679.5" y="442.5" width="3" height="2" fill="#45b84c" /><rect x="682.8" y="442.5" width="3" height="2" fill="#e2e2e2" /><rect x="698.2" y="430.7" width="11.5" height="10.7" fill="#b5b5b5" rx="1"/><rect x="699.4" y="431.7" width="9.2" height="8.7" fill="#d6d6d6" rx="1"/><text x="701.4" y="438.6" font-family="Liberation Sans" font-size="6" fill="#8a8a8a">R</text><rect x="722" y="430.7" width="11.6" height="9.8" fill="#f08a2e" rx="1"/><rect x="722" y="438" width="11.6" height="2.5" fill="#e07520" rx="1"/><text x="726" y="437.6" font-family="Liberation Sans" font-size="5.6" fill="#f9c592">T</text><g stroke="#b0b0b0" stroke-width="0.4" fill="none"><path d="M704 443 v2 M728 443 v2"/></g><rect x="698" y="447" width="14" height="0.5" fill="#b8b8b8" /><rect x="722" y="447" width="12" height="0.5" fill="#b8b8b8" /><rect x="663.7" y="446" width="8" height="0.5" fill="#b8b8b8" /><rect x="663.7" y="448.3" width="8" height="0.5" fill="#b8b8b8" /><rect x="663.7" y="450.6" width="8" height="0.5" fill="#b8b8b8" /><rect x="663.7" y="452.9" width="8" height="0.5" fill="#b8b8b8" /><g stroke="#a8a8a8" stroke-width="0.45" fill="none"><path d="M696.5 456 V475 M698.5 465.7 h5 M711.2 464.2 h11.1 v10.1 h-11.1 z M717.8 460 v19.4 M714 467 h6"/></g><rect x="695.5" y="484.2" width="11" height="0.5" fill="#bbbbbb" /><rect x="695.5" y="488.1" width="9" height="0.5" fill="#bbbbbb" /><rect x="713.7" y="482.4" width="6" height="2" fill="#e6e6e6" /><rect x="664.5" y="460.8" width="26.3" height="34.7" fill="#fdfdfd" /><rect x="664.5" y="460.8" width="2" height="34.7" fill="#e8e8e8" /><path d="M671.2 465.3 L685.3 464.2 Q687.2 464.3 687.6 466.5 Q689.6 480 689 494 H670.7 Z" fill="#e6161e"/><path d="M685.3 464.5 Q687.2 464.3 687.6 466.5 Q689.6 480 689 494 H686.5 Q687 480 685.3 464.5 Z" fill="#b70b12" opacity="0.7"/><rect x="671.2" y="470.5" width="15" height="1.1" fill="#b70b12" opacity="0.3"/><rect x="671" y="476.5" width="15.5" height="1.1" fill="#b70b12" opacity="0.3"/><rect x="651.3" y="495.5" width="80.7" height="18.7" fill="#efefef" /><rect x="651.3" y="495.5" width="80.7" height="1.5" fill="#e2e2e2" /><circle cx="665.3" cy="506.8" r="6.6" fill="#cbcbcb"/><circle cx="665.8" cy="506.5" r="5.4" fill="#f7f7f7"/><path d="M668.93 503.83 A4.62 4.62 0 0 1 665.96 511.42" stroke="#6a6a6a" stroke-width="1.1" fill="none"/><path d="M662 506.8 H668.6 M665.3 503.5 V510.1" stroke="#4d4d4d" stroke-width="1.3"/><circle cx="702.3" cy="504.4" r="6.6" fill="#cbcbcb"/><circle cx="702.8" cy="504.1" r="5.4" fill="#f7f7f7"/><path d="M705.93 501.43 A4.62 4.62 0 0 1 702.96 509.02" stroke="#6a6a6a" stroke-width="1.1" fill="none"/><path d="M699 504.4 H705.6 M702.3 501.1 V507.7" stroke="#4d4d4d" stroke-width="1.3"/><circle cx="723.7" cy="503.2" r="6.6" fill="#cbcbcb"/><circle cx="724.2" cy="502.9" r="5.4" fill="#f7f7f7"/><path d="M727.33 500.23 A4.62 4.62 0 0 1 724.36 507.82" stroke="#6a6a6a" stroke-width="1.1" fill="none"/><path d="M720.4 503.2 H727 M723.7 499.9 V506.5" stroke="#4d4d4d" stroke-width="1.3"/><text x="729" y="499.5" font-family="Liberation Sans" font-size="6" fill="#444">N</text><rect x="649.7" y="514.2" width="41.1" height="27.2" fill="#f4f4f4" /><rect x="649.7" y="514.2" width="41.1" height="1" fill="#555" opacity="0.5"/><rect x="649.7" y="514.2" width="5" height="27.2" fill="#e8e8e8" /><g fill="#bbb"><rect x="683" y="519" width="2.5" height="2"/><rect x="683" y="524" width="2.5" height="2"/><rect x="683" y="529" width="2.5" height="2"/><circle cx="684.2" cy="535" r="1.2" fill="none" stroke="#bbb" stroke-width="0.5"/></g><rect x="699.9" y="513.4" width="10.7" height="17.3" fill="#dedede" /><rect x="720.4" y="511.8" width="9.9" height="17.2" fill="#dedede" /><rect x="699.9" y="513.4" width="2.5" height="17.3" fill="#c4c4c4" /><rect x="720.4" y="511.8" width="2.5" height="17.2" fill="#c4c4c4" /></g>
<!-- connector lines -->
<g fill="none" stroke="#e5293c" stroke-width="1.4">
  <path d="M459 117 V142.8 a10.3 10.3 0 0 0 10.3 10.3 H659.1 a10.2 10.2 0 0 1 10.2 10.2 V199.8"/>
  <path d="M115 262 H172.1"/>
  <path d="M236 262 H275.4"/>
  <path d="M351.3 262 H437.7"/>
  <path d="M515.3 262 H644"/>
  <path d="M392.6 262 V785.2 a10 10 0 0 0 10 10 H466"/>
  <path d="M392.6 454.3 H458.2"/>
  <path d="M392.6 620.1 H466"/>
  <path d="M578.1 262 V446.8 a10 10 0 0 0 10 10 H651.8"/>
</g>

<!-- badges -->
<g fill="#d20c17">
  <circle cx="285.6" cy="89" r="6.5"/>
  <circle cx="30.7" cy="202.6" r="6.5"/>
  <circle cx="157.6" cy="202.6" r="6.5"/>
  <circle cx="260.2" cy="202.6" r="6.5"/>
  <circle cx="426.6" cy="204.6" r="6.5"/>
  <circle cx="614.9" cy="204.2" r="6.5"/>
</g>
<g fill="#fff" font-family="Liberation Sans" font-weight="bold" font-size="10" text-anchor="middle">
  <text x="285.6" y="92.6">6</text>
  <text x="30.7" y="206.2">5</text>
  <text x="157.6" y="206.2">4</text>
  <text x="260.2" y="206.2">3</text>
  <text x="426.6" y="208.2">2</text>
  <text x="614.9" y="207.8">1</text>
</g>


</svg>

<div class="lg"><div><span style="left:6px;">1、</span><span style="left:26.3px;letter-spacing:0.65px;">断路器本体</span></div><div><span style="left:6px;">2、</span><span style="left:26.4px;letter-spacing:0.1px;">MVMN</span><span style="left:62.6px;letter-spacing:1.35px;">过欠压脱扣器</span><span style="left:142.3px;font-size:14px;font-weight:bold;">,</span><span style="left:153.3px;letter-spacing:0.3px;">MNs</span><span style="left:178.4px;letter-spacing:1.1px;">失压脱扣器</span><span style="left:244px;font-size:14px;font-weight:bold;">,</span></div><div><span style="left:26.2px;letter-spacing:1.0px;">MN</span><span style="left:43.0px;letter-spacing:1.0px;">欠压脱扣器和</span><span style="left:122.2px;letter-spacing:0.8px;">MV</span><span style="left:140.0px;letter-spacing:0.7px;">过压脱扣器</span></div><div><span style="left:6px;">3、</span><span style="left:25.8px;letter-spacing:0.3px;">MX+OF</span><span style="left:68.5px;letter-spacing:0.75px;">分励脱扣器</span></div><div><span style="left:6px;">4、</span><span style="left:25.9px;letter-spacing:0.5px;">OF</span><span style="left:43.6px;letter-spacing:0.75px;">辅助触头</span></div><div><span style="left:6px;">5、</span><span style="left:25.8px;letter-spacing:0.4px;">SD</span><span style="left:41.6px;letter-spacing:0.75px;">报警触头</span></div><div><span style="left:6px;">6、</span><span style="left:26.0px;letter-spacing:0.85px;">梳状母排</span></div></div>
</body></html>
